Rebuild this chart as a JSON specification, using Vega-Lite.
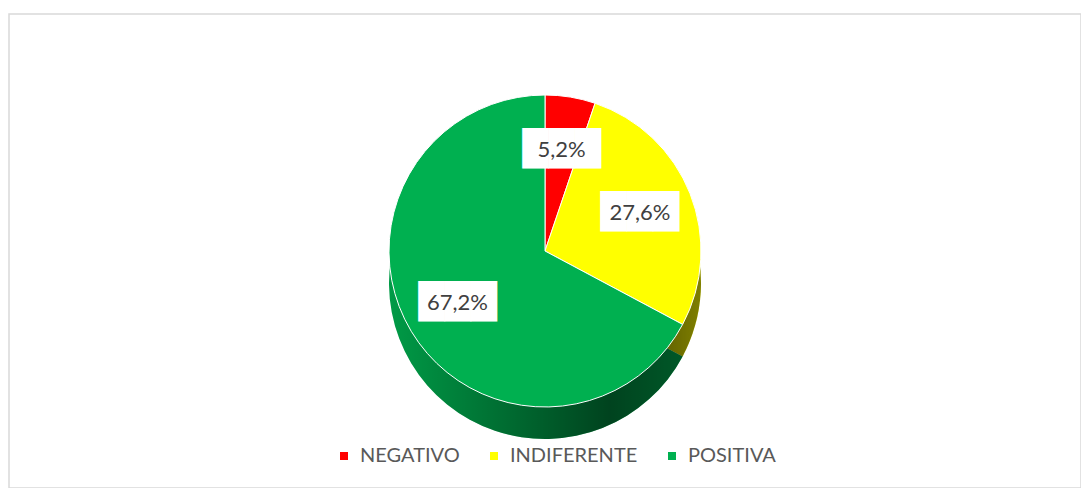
{
  "$schema": "https://vega.github.io/schema/vega-lite/v6.json",
  "autosize": {"type": "fit", "contains": "padding"},
  "width": 1081,
  "height": 488,
  "padding": {"left": 9, "top": 14, "right": 0, "bottom": 0},
  "background": "white",
  "view": {"stroke": "#d9d9d9", "strokeWidth": 1.5, "fill": "white"},
  "config": {"font": "Lato"},
  "data": {
    "values": [
      {"categoria": "NEGATIVO", "valor": 5.2, "etiqueta": "5,2%", "orden": 1},
      {"categoria": "INDIFERENTE", "valor": 27.6, "etiqueta": "27,6%", "orden": 2},
      {"categoria": "POSITIVA", "valor": 67.2, "etiqueta": "67,2%", "orden": 3}
    ]
  },
  "encoding": {
    "theta": {"field": "valor", "type": "quantitative", "stack": true},
    "order": {"field": "orden", "type": "quantitative"}
  },
  "layer": [
    {
      "mark": {"type": "arc", "outerRadius": 156, "yOffset": 32},
      "encoding": {
        "color": {
          "field": "categoria",
          "type": "nominal",
          "scale": {"domain": ["NEGATIVO", "INDIFERENTE", "POSITIVA"], "range": ["#ff0000", "#ffff00", "#00b050"]},
          "legend": {
            "title": null,
            "orient": "none",
            "legendX": 325,
            "legendY": 432,
            "direction": "horizontal",
            "symbolType": "square",
            "symbolSize": 64,
            "symbolStrokeWidth": 0,
            "labelFontSize": 20,
            "labelFont": "Lato",
            "labelColor": "#595959",
            "labelOffset": 6,
            "columnPadding": 24
          }
        }
      }
    },
    {
      "mark": {
        "type": "arc",
        "outerRadius": 156,
        "yOffset": 32,
        "fill": {
          "gradient": "linear",
          "x1": 0, "y1": 0, "x2": 1, "y2": 0,
          "stops": [
            {"offset": 0, "color": "rgba(0,0,0,0.12)"},
            {"offset": 0.75, "color": "rgba(0,0,0,0.62)"},
            {"offset": 1, "color": "rgba(0,0,0,0.5)"}
          ]
        }
      }
    },
    {
      "mark": {"type": "arc", "outerRadius": 156, "stroke": "white", "strokeWidth": 1},
      "encoding": {
        "color": {"field": "categoria", "type": "nominal"}
      }
    },
    {
      "mark": {"type": "text", "radius": 102, "fontSize": 34, "font": "DejaVu Sans", "text": "███", "fill": "white"}
    },
    {
      "mark": {"type": "text", "radius": 102, "fontSize": 22, "font": "Lato", "fill": "#404040"},
      "encoding": {"text": {"field": "etiqueta"}}
    }
  ]
}
